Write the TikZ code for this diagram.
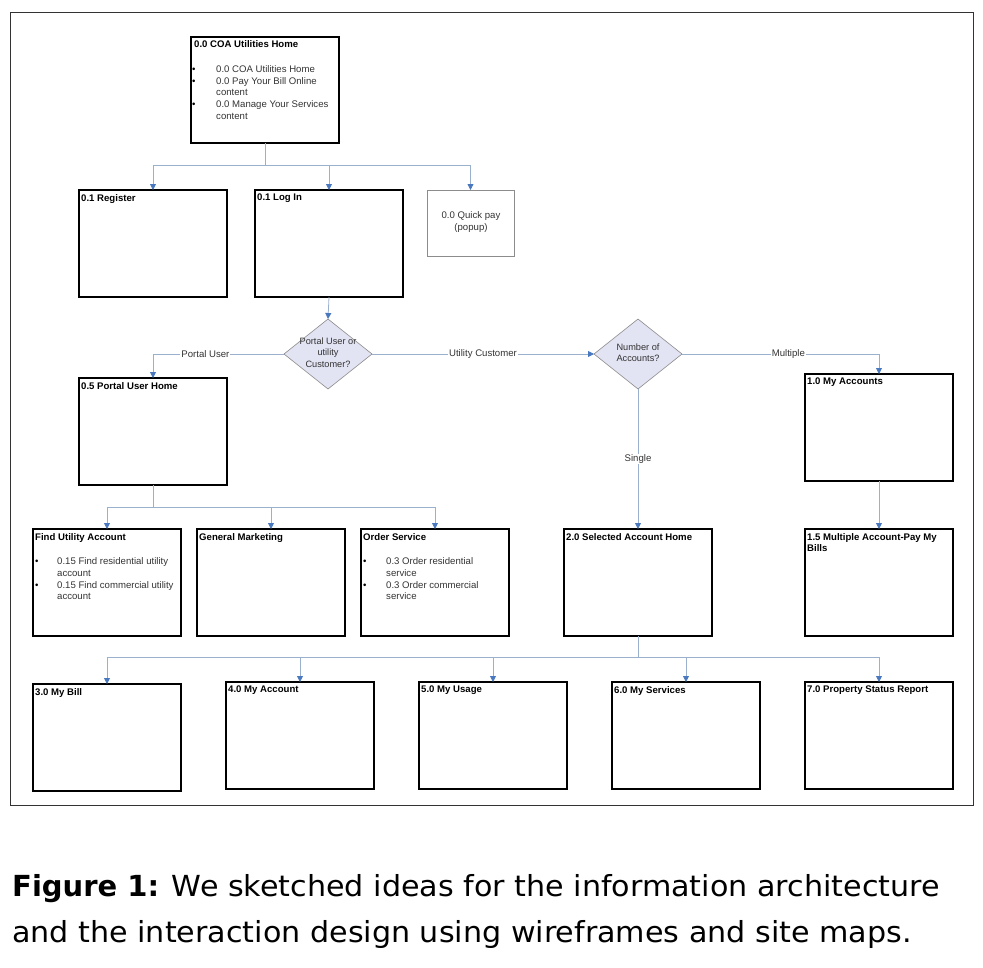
\documentclass[tikz,border=0pt]{standalone}
\usepackage{fontspec}
\setmainfont{Liberation Sans}
\newfontfamily\capfont[FakeStretch=1.04]{DejaVu Sans}
\newfontfamily\capfontb{DejaVu Sans}
\usetikzlibrary{arrows.meta,shapes.geometric}
\definecolor{lineblue}{HTML}{9AB0CC}
\definecolor{tipblue}{HTML}{4A78BE}
\definecolor{dfill}{HTML}{E2E3F3}
\definecolor{dgray}{HTML}{8C8C8C}
\definecolor{txtgray}{HTML}{333333}
\tikzset{
  frame/.style={draw=black!80, line width=0.9pt},
  wbox/.style={draw=black, line width=1.6pt, inner sep=0pt, outer sep=0pt, anchor=north west, minimum width=148pt, minimum height=107pt},
  qbox/.style={draw=black!45, line width=0.6pt, inner sep=0pt, outer sep=0pt, anchor=north west, minimum width=87pt, minimum height=66pt},
  dia/.style={diamond, draw=dgray, fill=dfill, line width=0.6pt, inner sep=0pt, outer sep=0pt, minimum width=88pt, minimum height=70pt},
  ttl/.style={font=\fontsize{9.6}{11}\selectfont\bfseries, inner sep=0pt, anchor=north west, align=left},
  txt/.style={font=\fontsize{9.6}{11.7}\selectfont, text=txtgray, inner sep=0pt, anchor=north west, align=left},
  ctxt/.style={font=\fontsize{9.6}{11.7}\selectfont, text=txtgray, inner sep=0pt, align=center},
  lbl/.style={font=\fontsize{9.6}{11}\selectfont, text=txtgray, fill=white, inner sep=1pt},
  conn/.style={draw=lineblue, line width=0.8pt},
  arr/.style={conn, -{Triangle[length=6pt,width=6pt,color=tipblue]}},
  captxt/.style={font=\capfont\fontsize{29}{32}\selectfont, inner sep=0pt, anchor=base west},
}
\newcommand{\bul}{\textcolor{black}{\textbullet}}
\begin{document}
\begin{tikzpicture}[x=1pt,y=-1pt]
\useasboundingbox (0,0) rectangle (983,967);
\draw[frame] (10,12) rectangle (973,805);

% boxes
\node[wbox, minimum height=106pt] (coa) at (191,37) {};
\node[wbox] (reg) at (79,190) {};
\node[wbox] (login) at (255,190) {};
\node[qbox] (quick) at (427,190) {};
\node[wbox] (puh) at (79,378) {};
\node[wbox] (acc) at (805,374) {};
\node[wbox] (find) at (33,529) {};
\node[wbox] (gen) at (197,529) {};
\node[wbox] (order) at (361,529) {};
\node[wbox] (sel) at (564,529) {};
\node[wbox] (multi) at (805,529) {};
\node[wbox] (bill) at (33,684) {};
\node[wbox] (myacc) at (226,682) {};
\node[wbox] (usage) at (419,682) {};
\node[wbox] (serv) at (612,682) {};
\node[wbox] (prop) at (805,682) {};

% diamonds
\node[dia] (d1) at (328,354) {};
\node[ctxt, font=\fontsize{9.2}{11.3}\selectfont] (d1t) at (328,352.5) {Portal User or\\utility\\Customer?};
\node[dia] (d2) at (638,354) {};
\node[ctxt, font=\fontsize{9.2}{11.3}\selectfont] (d2t) at (638,352.5) {Number of\\Accounts?};

% titles
\node[ttl] (coat) at (194,40) {0.0 COA Utilities Home};
\node[txt] (coal) at (192,64) {\begin{tabular}{@{}p{24pt}@{}l@{}}
\bul & 0.0 COA Utilities Home\\
\bul & 0.0 Pay Your Bill Online\\
 & content\\
\bul & 0.0 Manage Your Services\\
 & content
\end{tabular}};
\node[ttl] (regt) at (81,194) {0.1 Register};
\node[ttl] (logint) at (257,194) {0.1 Log In};
\node[ctxt] (quickt) at (471,222) {0.0 Quick pay\\(popup)};
\node[ttl] (puht) at (81,382) {0.5 Portal User Home};
\node[ttl] (acct) at (807,378) {1.0 My Accounts};
\node[ttl] (findt) at (35,533) {Find Utility Account};
\node[txt] (findl) at (35,556.5) {\begin{tabular}{@{}p{22pt}@{}l@{}}
\bul & 0.15 Find residential utility\\
 & account\\
\bul & 0.15 Find commercial utility\\
 & account
\end{tabular}};
\node[ttl] (gent) at (199,533) {General Marketing};
\node[ttl] (ordert) at (363,533) {Order Service};
\node[txt] (orderl) at (363,556.5) {\begin{tabular}{@{}p{23pt}@{}l@{}}
\bul & 0.3 Order residential\\
 & service\\
\bul & 0.3 Order commercial\\
 & service
\end{tabular}};
\node[ttl] (selt) at (566,533) {2.0 Selected Account Home};
\node[ttl] (multit) at (807,533) {1.5 Multiple Account-Pay My\\Bills};
\node[ttl] (billt) at (35,688) {3.0 My Bill};
\node[ttl] (myacct) at (228,686) {4.0 My Account};
\node[ttl] (usaget) at (421,686) {5.0 My Usage};
\node[ttl] (servt) at (614,686) {6.0 My Services};
\node[ttl] (propt) at (807,686) {7.0 Property Status Report};

% connectors
\coordinate (j1) at (265,165);
\draw[conn] (coa.south) -- (j1);
\draw[arr] (j1) -| (reg.north);
\draw[arr] (j1) -| (login.north);
\draw[arr] (j1) -| (quick.north);
\draw[arr] (login.south) -- (d1.north);
\draw[arr] (d1.west) -| (puh.north) node[lbl, pos=0.3] {Portal User};
\draw[arr] (d1.east) -- (d2.west) node[lbl, midway] {Utility Customer};
\draw[arr] (d2.east) -| (acc.north) node[lbl, pos=0.27] {Multiple};
\draw[arr] (d2.south) -- (sel.north) node[lbl, midway] {Single};
\draw[arr] (acc.south) -- (multi.north);
\coordinate (j2) at (153,507);
\draw[conn] (puh.south) -- (j2);
\draw[arr] (j2) -| (find.north);
\draw[arr] (j2) -| (gen.north);
\draw[arr] (j2) -| (order.north);
\coordinate (j3) at (638,657);
\draw[conn] (sel.south) -- (j3);
\draw[arr] (j3) -| (bill.north);
\draw[arr] (j3) -| (myacc.north);
\draw[arr] (j3) -| (usage.north);
\draw[arr] (j3) -| (serv.north);
\draw[arr] (j3) -| (prop.north);

% caption
\node[captxt] (cap1) at (12,896) {{\capfontb\bfseries Figure 1:} We sketched ideas for the information architecture};
\node[captxt] (cap2) at (12,942) {and the interaction design using wireframes and site maps.};
\end{tikzpicture}
\end{document}
